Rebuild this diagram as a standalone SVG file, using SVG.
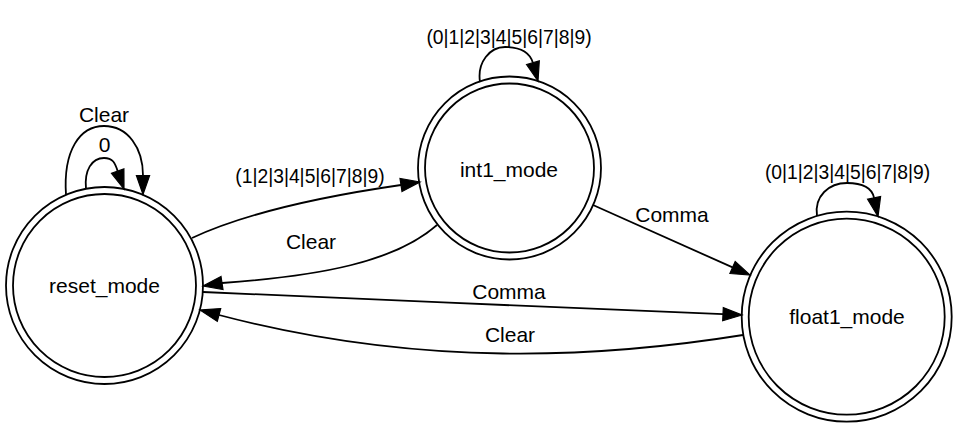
<svg xmlns="http://www.w3.org/2000/svg" width="960" height="430" viewBox="0 0 960 430">
<style>
  .ring { fill: none; stroke: #000; stroke-width: 1.8; }
  .edge { fill: none; stroke: #000; stroke-width: 1.8; }
  .head { fill: #000; stroke: #000; stroke-width: 1.2; stroke-linejoin: miter; }
  .nlbl { font-family: "Liberation Sans", Arial, sans-serif; font-size: 21px; text-anchor: middle; fill: #000; }
  .elbl { font-family: "Liberation Sans", Arial, sans-serif; font-size: 21px; text-anchor: middle; fill: #000; }
  .dlbl { font-family: "Liberation Sans", Arial, sans-serif; font-size: 19.3px; text-anchor: middle; fill: #000; }
</style>
<rect width="960" height="430" fill="#fff"/>

<g id="reset_mode">
  <circle class="ring" cx="104.5" cy="285.5" r="98.5"/>
  <circle class="ring" cx="104.5" cy="285.5" r="91.5"/>
  <text class="nlbl" x="104.5" y="293">reset_mode</text>
</g>
<g id="int1_mode">
  <circle class="ring" cx="509.5" cy="168" r="91.5"/>
  <circle class="ring" cx="509.5" cy="168" r="84.5"/>
  <text class="nlbl" x="509" y="176.5">int1_mode</text>
</g>
<g id="float1_mode">
  <circle class="ring" cx="846.7" cy="316.7" r="105"/>
  <circle class="ring" cx="846.7" cy="316.7" r="98"/>
  <text class="nlbl" x="847" y="324">float1_mode</text>
</g>

<g id="connectors">
  <!-- reset self loop: 0 -->
  <path class="edge" d="M86,189 C 84,170 92,158 104,158 C 113,158 115,163 117.7,171.1"/>
  <polygon class="head" points="111.5,173.3 124,189 123.9,168.9"/>
  <text class="elbl" x="104.7" y="152.3">0</text>

  <!-- reset self loop: Clear -->
  <path class="edge" d="M66,195 C 63,150 80,126 104,126 C 128,126 143,148 143,175.5"/>
  <polygon class="head" points="136.4,175.5 143,194.5 149.6,175.5"/>
  <text class="elbl" x="104" y="122.3">Clear</text>

  <!-- reset -> int1 -->
  <path class="edge" d="M192,238 C 252,210 332,195 401,185"/>
  <polygon class="head" points="402,191.5 420,182 400,178.5"/>
  <text class="dlbl" x="310" y="183">(1|2|3|4|5|6|7|8|9)</text>

  <!-- int1 -> reset: Clear -->
  <path class="edge" d="M437,225 C 395,262 320,276 222,283"/>
  <polygon class="head" points="221,276.5 203,286 223,289.5"/>
  <text class="elbl" x="311" y="249.3">Clear</text>

  <!-- reset -> float1: Comma -->
  <path class="edge" d="M203,292 C 370,299 560,308 723,314.2"/>
  <polygon class="head" points="722.7,320.8 742,315 723.3,307.6"/>
  <text class="elbl" x="509" y="299">Comma</text>

  <!-- float1 -> reset: Clear -->
  <path class="edge" d="M743,335 C 600,358 420,368 219,315"/>
  <polygon class="head" points="220.7,308.6 200,310 217.3,321.4"/>
  <text class="elbl" x="510" y="342">Clear</text>

  <!-- int1 -> float1: Comma -->
  <path class="edge" d="M593,205 L732.6,267.4"/>
  <polygon class="head" points="729.9,273.5 750,275 735.2,261.4"/>
  <text class="elbl" x="672" y="221.7">Comma</text>

  <!-- int1 self loop -->
  <path class="edge" d="M480,82 C 477,62 490,47 505,47 C 518,47 529,50 532.9,62.7"/>
  <polygon class="head" points="526.5,64.5 538,81 539.3,60.9"/>
  <text class="dlbl" x="509" y="44">(0|1|2|3|4|5|6|7|8|9)</text>

  <!-- float1 self loop -->
  <path class="edge" d="M817,216 C 814,196 829,183 847,183 C 862,183 872,188 874.1,197.9"/>
  <polygon class="head" points="867.6,199.2 878,216.5 880.6,196.6"/>
  <text class="dlbl" x="847.5" y="179.3">(0|1|2|3|4|5|6|7|8|9)</text>
</g>
</svg>
